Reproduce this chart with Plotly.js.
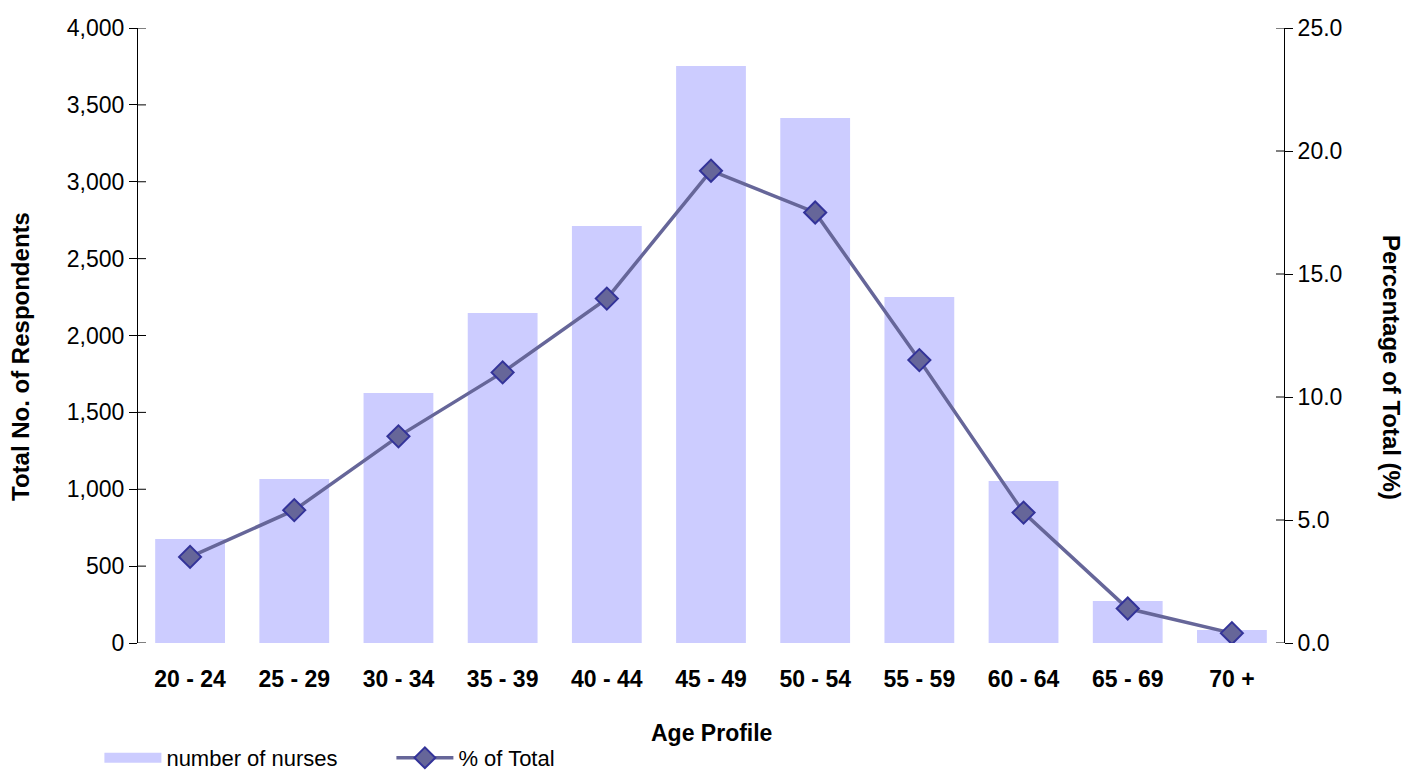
<!DOCTYPE html>
<html><head><meta charset="utf-8">
<script src="https://cdn.plot.ly/plotly-3.0.1.min.js"></script>
<style>body{margin:0;background:#fff}#c{width:1420px;height:774px}</style>
</head><body><div id="c"></div>
<script>
var categories = ["20 - 24","25 - 29","30 - 34","35 - 39","40 - 44","45 - 49","50 - 54","55 - 59","60 - 64","65 - 69","70 +"];
var nurses = [676, 1067, 1626, 2146, 2712, 3753, 3415, 2250, 1054, 273, 85];
var pctTotal = [3.5, 5.4, 8.4, 11.0, 14.0, 19.2, 17.5, 11.5, 5.3, 1.4, 0.4];
var leftTicks = [0,500,1000,1500,2000,2500,3000,3500,4000];
var rightTicks = [0,5,10,15,20,25];

var F = "Liberation Sans, Arial, sans-serif";
var traces = [
  {type:"bar", x:categories, y:nurses, name:"number of nurses", marker:{color:"#CCCCFF"}, width:0.67, yaxis:"y", showlegend:false},
  {type:"scatter", mode:"lines", x:[categories[0]], y:[null], name:"number of nurses", yaxis:"y",
   line:{color:"#CCCCFF", width:17}, showlegend:true},
  {type:"scatter", mode:"lines+markers", x:categories, y:pctTotal, name:"% of Total", yaxis:"y2",
   line:{color:"#666699", width:3.5}, marker:{symbol:"diamond", size:17, color:"#666699", line:{color:"#333399", width:2}}}
];
// inner halves of the crossing tick marks, placed on the axes' own scales
var tickShapes = [];
leftTicks.forEach(function(v){
  tickShapes.push({type:"line", xref:"paper", yref:"y", x0:0, x1:8/1146, y0:v, y1:v, line:{color:"#000", width:1}, layer:"above"});
});
rightTicks.forEach(function(v){
  tickShapes.push({type:"line", xref:"paper", yref:"y2", x0:1-8/1146, x1:1, y0:v, y1:v, line:{color:"#000", width:1}, layer:"above"});
});
var layout = {
  width:1420, height:774, paper_bgcolor:"#fff", plot_bgcolor:"#fff",
  margin:{l:138, r:136, t:28, b:131, autoexpand:false},
  font:{family:F, size:23, color:"#000"},
  xaxis:{type:"category", range:[-0.5,10.5], showline:false, ticks:"", showgrid:false, zeroline:false,
    tickfont:{family:F, size:23, weight:"bold"}, ticklabelstandoff:20, tickangle:0},
  yaxis:{range:[0,4000], tickvals:leftTicks, ticktext:leftTicks.map(function(v){return v.toLocaleString("en-US");}),
    showgrid:false, zeroline:false, showline:true, linecolor:"#000", linewidth:1,
    ticks:"outside", ticklen:8, tickcolor:"#000", tickfont:{family:F,size:23}, ticklabelstandoff:0},
  yaxis2:{range:[0,25], overlaying:"y", side:"right", tickvals:rightTicks, ticktext:rightTicks.map(function(v){return v.toFixed(1);}),
    showgrid:false, zeroline:false, showline:true, linecolor:"#000", linewidth:1,
    ticks:"outside", ticklen:8, tickcolor:"#000", tickfont:{family:F,size:23}, ticklabelstandoff:0},
  shapes:tickShapes,
  showlegend:true,
  legend:{orientation:"h", x:0.07, xref:"container", y:(643-758)/615, yanchor:"middle", yref:"paper",
    font:{family:F,size:22}, itemwidth:57, traceorder:"normal", entrywidth:220},
  annotations:[
    {text:"<b>Age Profile</b>", xref:"paper", yref:"paper", x:0.5, y:(643-733)/615, yanchor:"middle", showarrow:false, font:{family:F,size:23}},
    {text:"<b>Total No. of Respondents</b>", xref:"paper", yref:"paper", x:(20-138)/1146, xanchor:"center", y:(643-357)/615, textangle:-90, showarrow:false, font:{family:F,size:24}},
    {text:"<b>Percentage of Total (%)</b>", xref:"paper", yref:"paper", x:(1392-138)/1146, xanchor:"center", y:(643-367)/615, textangle:90, showarrow:false, font:{family:F,size:24}}
  ]
};
Plotly.newPlot("c", traces, layout, {staticPlot:true});
</script></body></html>
